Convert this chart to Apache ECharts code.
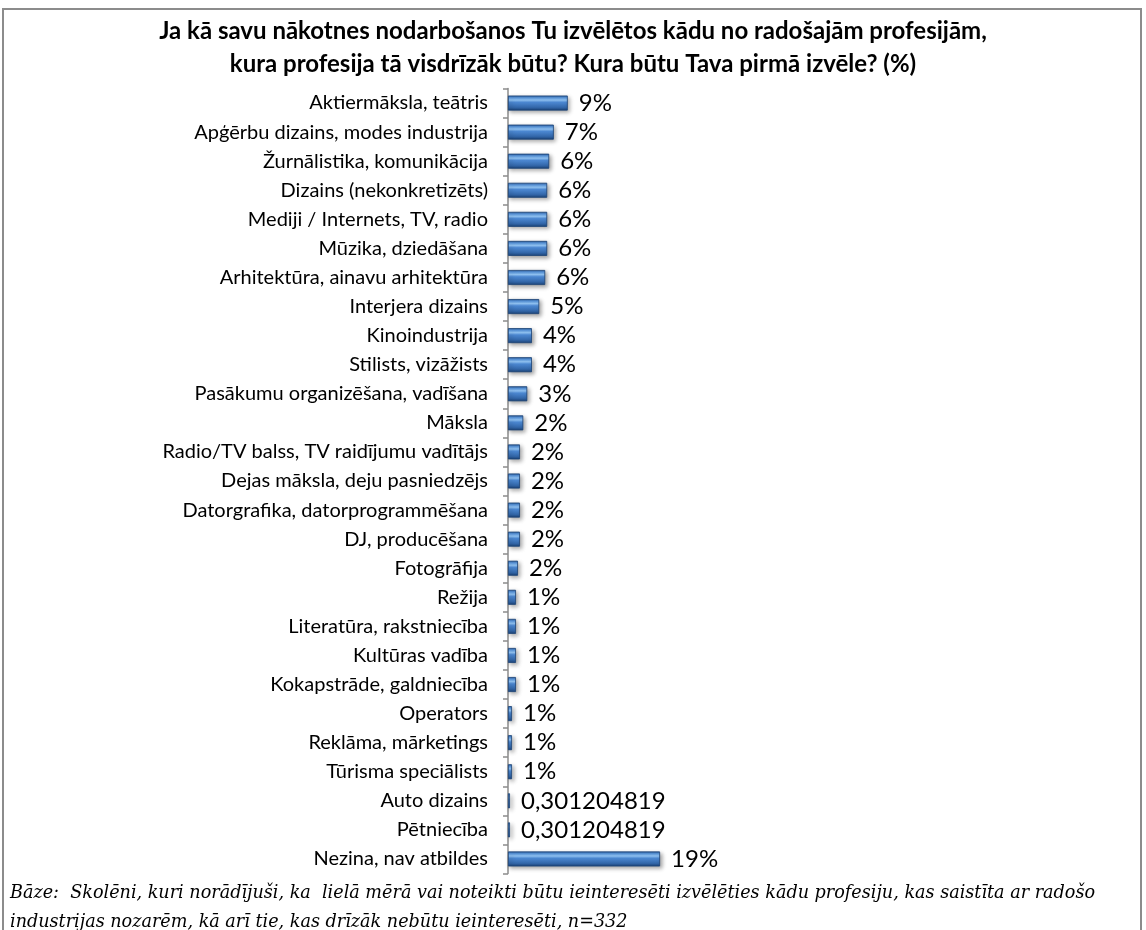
<!DOCTYPE html>
<html>
<head>
<meta charset="utf-8">
<script src="https://cdn.jsdelivr.net/npm/echarts@6/dist/echarts.min.js"></script>
<style>
html,body{margin:0;padding:0;background:#fff;}
#c{width:1146px;height:930px;}
</style>
</head>
<body>
<div id="c"></div>
<script>
// Categories (top to bottom)
const categories = [
  "Aktiermāksla, teātris",
  "Apģērbu dizains, modes industrija",
  "Žurnālistika, komunikācija",
  "Dizains (nekonkretizēts)",
  "Mediji / Internets, TV, radio",
  "Mūzika, dziedāšana",
  "Arhitektūra, ainavu arhitektūra",
  "Interjera dizains",
  "Kinoindustrija",
  "Stilists, vizāžists",
  "Pasākumu organizēšana, vadīšana",
  "Māksla",
  "Radio/TV balss, TV raidījumu vadītājs",
  "Dejas māksla, deju pasniedzējs",
  "Datorgrafika, datorprogrammēšana",
  "DJ, producēšana",
  "Fotogrāfija",
  "Režija",
  "Literatūra, rakstniecība",
  "Kultūras vadība",
  "Kokapstrāde, galdniecība",
  "Operators",
  "Reklāma, mārketings",
  "Tūrisma speciālists",
  "Auto dizains",
  "Pētniecība",
  "Nezina, nav atbildes"
];
// Bar values (%)
const values = [9.0, 6.9, 6.2, 5.9, 5.9, 5.9, 5.6, 4.7, 3.6, 3.6, 2.9, 2.3, 1.8, 1.8, 1.8, 1.8, 1.5, 1.2, 1.2, 1.2, 1.2, 0.6, 0.6, 0.6, 0.3, 0.3, 22.9];
// Data label texts as printed on the chart
const valueLabels = ["9%", "7%", "6%", "6%", "6%", "6%", "6%", "5%", "4%", "4%", "3%", "2%", "2%", "2%", "2%", "2%", "2%", "1%", "1%", "1%", "1%", "1%", "1%", "1%", "0,301204819", "0,301204819", "19%"];

const titleLines = [
  "Ja kā savu nākotnes nodarbošanos Tu izvēlētos kādu no radošajām profesijām,",
  "kura profesija tā visdrīzāk būtu? Kura būtu Tava pirmā izvēle? (%)"
];
const footnoteLines = [
  "Bāze:  Skolēni, kuri norādījuši, ka  lielā mērā vai noteikti būtu ieinteresēti izvēlēties kādu profesiju, kas saistīta ar radošo",
  "industrijas nozarēm, kā arī tie, kas drīzāk nebūtu ieinteresēti, n=332"
];

const FONT = "Lato, 'Open Sans', sans-serif";
const chart = echarts.init(document.getElementById('c'), null, {renderer: 'canvas'});

const barColor = new echarts.graphic.LinearGradient(0, 0, 0, 1, [
  {offset: 0, color: '#2a5b9c'},
  {offset: 0.15, color: '#5d9ae0'},
  {offset: 0.3, color: '#93c6f7'},
  {offset: 0.45, color: '#4c88d2'},
  {offset: 0.8, color: '#3266a8'},
  {offset: 1, color: '#1b4276'}
]);

chart.setOption({
  backgroundColor: '#fff',
  animation: false,
  title: [
    {text: titleLines[0], left: 'center', top: 14,
     textStyle: {fontFamily: FONT, fontWeight: 'bold', fontSize: 24, color: '#000'}},
    {text: titleLines[1], left: 'center', top: 47,
     textStyle: {fontFamily: FONT, fontWeight: 'bold', fontSize: 24, color: '#000'}}
  ],
  graphic: [
    {type: 'rect', shape: {x: 3, y: 9, width: 1138, height: 960},
     style: {fill: 'none', stroke: '#8c8c8c', lineWidth: 2}, silent: true},
    {type: 'text', left: 10, top: 884,
     style: {text: footnoteLines[0], font: "italic 17.6px 'DejaVu Serif', serif", fill: '#000'}},
    {type: 'text', left: 10, top: 913,
     style: {text: footnoteLines[1], font: "italic 17.6px 'DejaVu Serif', serif", fill: '#000'}}
  ],
  grid: {left: 508, top: 88.5, height: 785, width: 166, containLabel: false},
  xAxis: {
    type: 'value', min: 0, max: 25, show: false
  },
  yAxis: {
    type: 'category', data: categories, inverse: true,
    axisLine: {show: true, lineStyle: {color: '#8c8c8c', width: 1.5}},
    axisTick: {show: true, length: 5, lineStyle: {color: '#8c8c8c', width: 1.5}},
    axisLabel: {fontFamily: FONT, fontSize: 20, color: '#000', margin: 20}
  },
  series: [{
    type: 'bar',
    data: values,
    barWidth: 15,
    itemStyle: {
      color: barColor,
      borderColor: '#1b4276', borderWidth: 0.8,
      shadowColor: 'rgba(0,0,0,0.35)', shadowBlur: 4, shadowOffsetX: 2, shadowOffsetY: 2
    },
    label: {
      show: true, position: 'right', distance: 11,
      fontFamily: FONT, fontSize: 24, color: '#000',
      formatter: p => valueLabels[p.dataIndex]
    }
  }]
});
</script>
</body>
</html>
